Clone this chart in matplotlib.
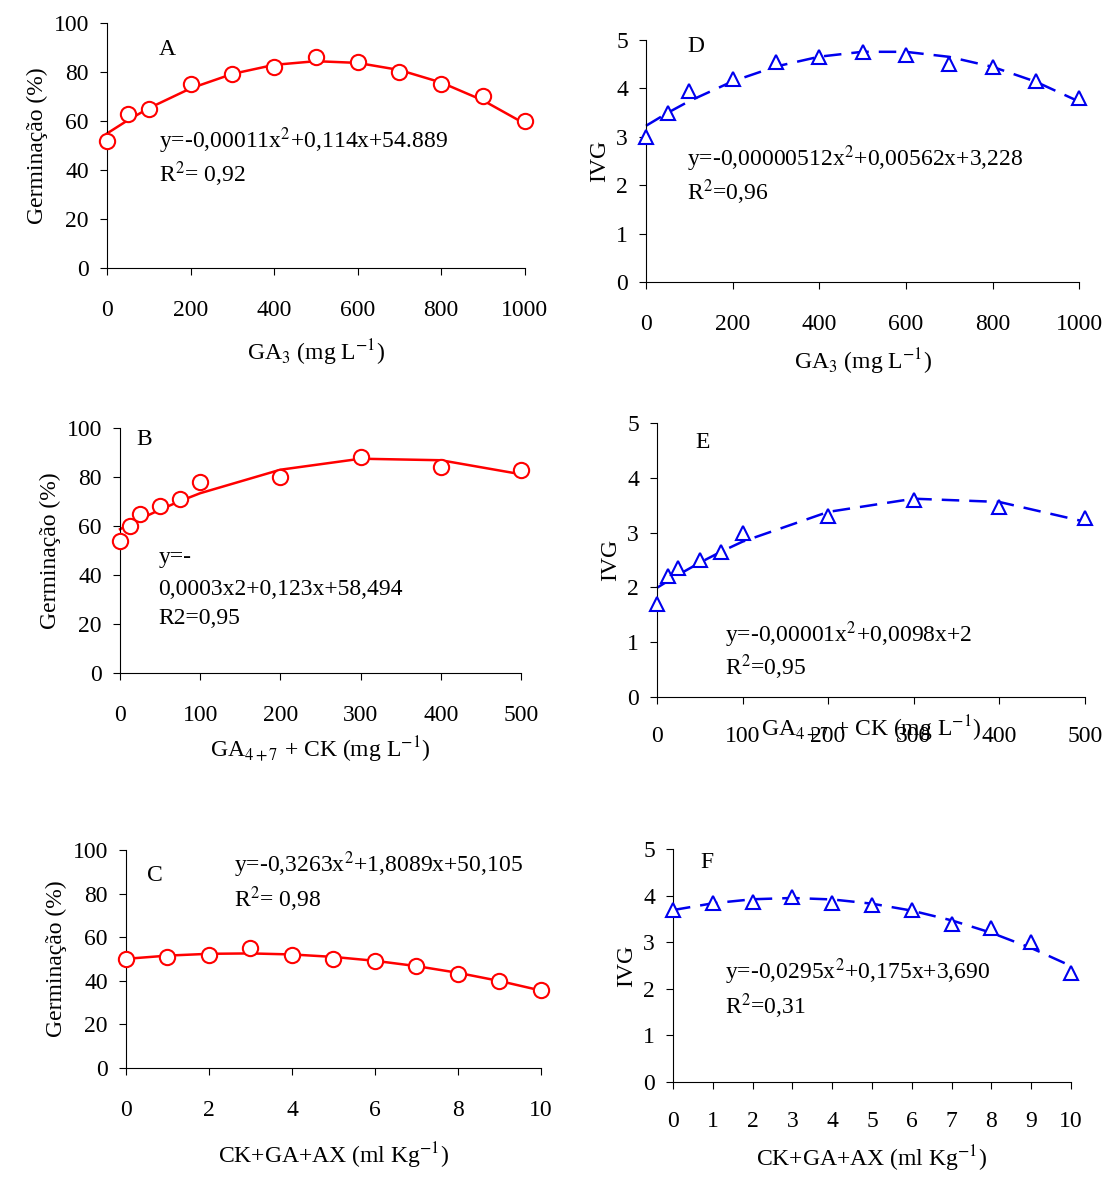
import numpy as np
import matplotlib
matplotlib.use("Agg")
import matplotlib.pyplot as plt

plt.rcParams['font.family'] = ['Liberation Serif', 'DejaVu Serif']
plt.rcParams['mathtext.fontset'] = 'stix'
plt.rcParams['font.size'] = 17

# data
xa = [0, 50, 100, 200, 300, 400, 500, 600, 700, 800, 900, 1000]
ya = [52, 63, 65, 75, 79, 82, 86, 84, 80, 75, 70, 60]
yd = [3.0, 3.5, 3.95, 4.2, 4.55, 4.65, 4.75, 4.7, 4.5, 4.45, 4.15, 3.8]
xb = [0, 12.5, 25, 50, 75, 100, 200, 300, 400, 500]
yb = [54, 60, 65, 68, 71, 78, 80, 88, 84, 83]
ye = [1.7, 2.2, 2.35, 2.5, 2.65, 3.0, 3.3, 3.6, 3.47, 3.27]
xc = [0, 1, 2, 3, 4, 5, 6, 7, 8, 9, 10]
yc = [50, 51, 52, 55, 52, 50, 49, 47, 43, 40, 36]
yf = [3.7, 3.85, 3.87, 3.97, 3.85, 3.8, 3.7, 3.4, 3.3, 3.0, 2.35]

coef_a = [-0.00011, 0.114, 54.889]
coef_d = [-0.00000512, 0.00562, 3.228]
coef_c = [-0.3263, 1.8089, 50.105]
coef_f = [-0.0295, 0.175, 3.690]

fig = plt.figure(figsize=(11.08, 11.82), dpi=100)


def panel(rect, x, y, coef, xlim, ylim, yticks, xticks, red, xpad=12):
    ax = fig.add_axes(rect)
    x = np.array(x, float)
    if coef is None:
        coef = np.polyfit(x, y, 2)
    col = 'red' if red else '#0000ee'
    ax.plot(x, np.polyval(coef, x), color=col, lw=1.8,
            ls='-' if red else (0, (7, 4)), clip_on=False)
    ax.plot(x, y, ls='none', marker='o' if red else '^', ms=11 if red else 10,
            mfc='white', mec=col, mew=1.5, clip_on=False, zorder=3)
    ax.set_xlim(*xlim)
    ax.set_ylim(*ylim)
    ax.set_xticks(xticks)
    ax.set_yticks(yticks)
    for s in ['top', 'right']:
        ax.spines[s].set_visible(False)
    ax.tick_params(direction='out', length=5, pad=8)
    ax.tick_params(axis='x', pad=xpad)
    return ax


ax = panel([0.0966, 0.7733, 0.377, 0.2073], xa, ya, coef_a, (0, 1000), (0, 100),
           range(0, 101, 20), range(0, 1001, 200), True, xpad=18)
ax.set_ylabel('Germinação (%)')
ax.set_xlabel('GA$_3$ (mg L$^{-1}$)', labelpad=12)
ax.text(125, 87, 'A')
ax.text(125, 49, 'y=-0,00011x$^2$+0,114x+54.889')
ax.text(125, 35, 'R$^2$= 0,92')

ax = panel([0.583, 0.7614, 0.391, 0.2047], xa, yd, coef_d, (0, 1000), (0, 5),
           range(0, 6), range(0, 1001, 200), False, xpad=18)
ax.set_ylabel('IVG')
ax.set_xlabel('GA$_3$ (mg L$^{-1}$)', labelpad=8)
ax.text(95, 4.75, 'D')
ax.text(95, 2.4, 'y=-0,00000512x$^2$+0,00562x+3,228')
ax.text(95, 1.7, 'R$^2$=0,96')

ax = panel([0.1083, 0.4306, 0.362, 0.2073], xb, yb, None, (0, 500), (0, 100),
           range(0, 101, 20), range(0, 501, 100), True, xpad=18)
ax.set_ylabel('Germinação (%)')
ax.set_xlabel('GA$_{4+7}$ + CK (mg L$^{-1}$)', labelpad=6)
ax.text(20, 93, 'B')
ax.text(48, 45, 'y=-')
ax.text(48, 32, '0,0003x2+0,123x+58,494')
ax.text(48, 20, 'R2=0,95')

ax = panel([0.593, 0.4103, 0.386, 0.2318], xb, ye, None, (0, 500), (0, 5),
           range(0, 6), range(0, 501, 100), False, xpad=16)
ax.set_ylabel('IVG')
ax.set_xlabel('GA$_{4+7}$ + CK (mg L$^{-1}$)', labelpad=-24)
ax.text(45, 4.55, 'E')
ax.text(80, 1.0, 'y=-0,00001x$^2$+0,0098x+2')
ax.text(80, 0.4, 'R$^2$=0,95')

ax = panel([0.1137, 0.0964, 0.3745, 0.1844], xc, yc, coef_c, (0, 10), (0, 100),
           range(0, 101, 20), range(0, 11, 2), True, xpad=18)
ax.set_ylabel('Germinação (%)')
ax.set_xlabel('CK+GA+AX (ml Kg$^{-1}$)', labelpad=14)
ax.text(0.5, 86, 'C')
ax.text(2.6, 90, 'y=-0,3263x$^2$+1,8089x+50,105')
ax.text(2.6, 74, 'R$^2$= 0,98')

ax = panel([0.6074, 0.0846, 0.3592, 0.1971], xc, yf, coef_f, (0, 10), (0, 5),
           range(0, 6), range(0, 11, 1), False, xpad=16)
ax.set_ylabel('IVG')
ax.set_xlabel('CK+GA+AX (ml Kg$^{-1}$)', labelpad=8)
ax.text(0.7, 4.6, 'F')
ax.text(1.3, 2.2, 'y=-0,0295x$^2$+0,175x+3,690')
ax.text(1.3, 1.45, 'R$^2$=0,31')

fig.savefig('out.png', dpi=100, facecolor='white')
